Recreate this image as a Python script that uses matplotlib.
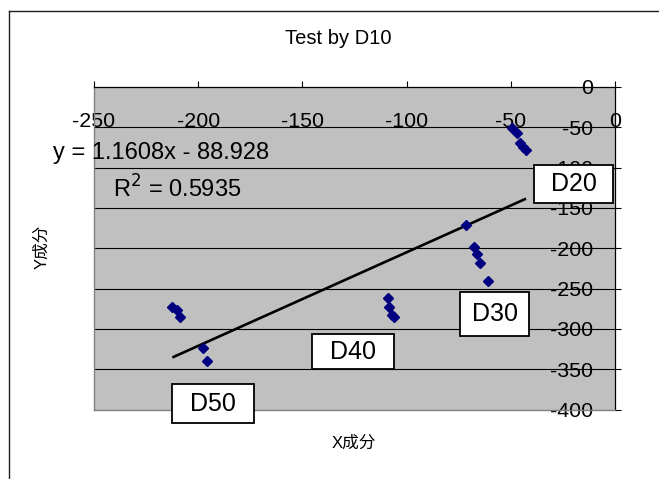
import numpy as np
import matplotlib
matplotlib.use("Agg")
import matplotlib.pyplot as plt
from matplotlib.patches import Rectangle
from matplotlib.lines import Line2D
from matplotlib.ticker import FixedLocator, FuncFormatter

plt.rcParams['font.family'] = ['Liberation Sans', 'Noto Sans CJK SC', 'DejaVu Sans']

# ---- data ----
x_vals = [-212.4, -210.4, -208.8, -197.6, -195.6,
          -109.1, -108.6, -107.1, -106.1,
          -71.5, -67.7, -66.4, -64.8, -60.8,
          -49.6, -47.2, -45.6, -44.0, -42.7]
y_vals = [-272.6, -276.7, -285.0, -323.4, -340.0,
          -262.2, -272.5, -282.9, -285.7,
          -171.2, -198.1, -207.2, -218.0, -240.7,
          -51.2, -57.4, -69.1, -74.1, -78.2]
slope = 1.1608
intercept = -88.928
r_squared = 0.5935

x_ticks = [-250, -200, -150, -100, -50, 0]
y_ticks = [0, -50, -100, -150, -200, -250, -300, -350, -400]

label_names = ["D20", "D30", "D40", "D50"]
label_xy = [(-19.7, -120.3), (-57.8, -281.6), (-125.7, -328.2), (-192.9, -392.7)]
label_box_px = [(79, 38), (69, 44), (82, 35), (82, 39)]

title = "Test by D10"
xlabel = "X成分"
ylabel = "Y成分"

# ---- figure ----
W, H = 659, 479
fig = plt.figure(figsize=(W / 100, H / 100), dpi=100)

def fx(px):
    return px / W

def fy(py):
    return 1 - py / H

ax_left, ax_right, ax_top, ax_bottom = 94, 615, 87, 409.5
ax = fig.add_axes([fx(ax_left), fy(ax_bottom), fx(ax_right - ax_left), (ax_bottom - ax_top) / H])
ax.set_facecolor('#C0C0C0')
ax.set_xlim(-250, 0)
ax.set_ylim(-400, 0)

# gridlines
for yv in y_ticks[1:-1]:
    ax.axhline(yv, color='black', lw=0.8, zorder=1)

# spines
for s in ['left', 'bottom']:
    ax.spines[s].set_color('#808080')
    ax.spines[s].set_linewidth(1.0)
for s in ['top', 'right']:
    ax.spines[s].set_color('black')
    ax.spines[s].set_linewidth(0.9)

ax.xaxis.set_major_locator(FixedLocator(x_ticks))
ax.yaxis.set_major_locator(FixedLocator(y_ticks))
fmt = FuncFormatter(lambda v, p: f"{int(round(v))}")
ax.xaxis.set_major_formatter(fmt)
ax.yaxis.set_major_formatter(fmt)

ax.tick_params(axis='x', which='major', top=True, bottom=False, labeltop=True, labelbottom=False,
               direction='out', length=4.3, width=0.8, color='black', pad=-36.0, labelsize=15.4)
ax.tick_params(axis='y', which='major', right=True, left=False, labelright=True, labelleft=False,
               direction='out', length=4.3, width=0.8, color='black', pad=-19.8, labelsize=15.4)
for lbl in ax.get_yticklabels():
    lbl.set_horizontalalignment('right')
for lbl in ax.get_xticklabels() + ax.get_yticklabels():
    lbl.set_zorder(2)

# scatter points
ax.plot(x_vals, y_vals, linestyle='none', marker='D', markersize=5.6,
        color='#000080', markeredgecolor='#000080', zorder=4, clip_on=False)

# trendline
xs = np.array([min(x_vals), max(x_vals)])
ax.plot(xs, slope * xs + intercept, color='black', lw=1.9, zorder=3, solid_capstyle='butt')

# data label boxes
px_per_x = (ax_right - ax_left) / 250.0
px_per_y = (ax_bottom - ax_top) / 400.0
for name, (lx, ly), (bw, bh) in zip(label_names, label_xy, label_box_px):
    wd = bw / px_per_x
    hd = bh / px_per_y
    ax.add_patch(Rectangle((lx - wd / 2, ly - hd / 2), wd, hd, facecolor='white',
                           edgecolor='black', lw=1.3, zorder=6, clip_on=False))
    ax.text(lx, ly, name, ha='center', va='center', fontsize=18, zorder=7, clip_on=False)

# trendline equation
sign = '-' if intercept < 0 else '+'
fig.text(fx(53), fy(153), f"y = {slope:.4f}x {sign} {abs(intercept):.3f}",
         ha='left', va='center', fontsize=17, zorder=8)
fig.text(fx(113), fy(189), f"R$^2$ = {r_squared:.4f}",
         ha='left', va='center', fontsize=17, zorder=8)

# title and axis labels
fig.text(fx(338), fy(39), title, ha='center', va='center', fontsize=14.5)
fig.text(fx(353.5), fy(443), xlabel, ha='center', va='center', fontsize=12)
fig.text(fx(42), fy(247), ylabel, ha='center', va='center', fontsize=12, rotation=90)

# outer chart border (left and top visible)
fig.add_artist(Line2D([fx(8.5), fx(8.5)], [0, fy(10.5)], color='#202020', lw=1.0,
                      transform=fig.transFigure))
fig.add_artist(Line2D([fx(8.5), 1], [fy(10.5), fy(10.5)], color='#202020', lw=1.0,
                      transform=fig.transFigure))

fig.savefig("out.png", dpi=100, facecolor='white')
